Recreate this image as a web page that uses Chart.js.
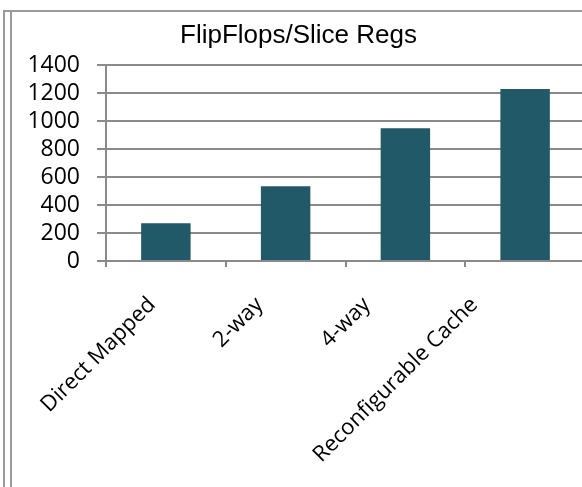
<!DOCTYPE html>
<html>
<head>
<meta charset="utf-8">
<script src="https://cdn.jsdelivr.net/npm/chart.js@4.4.1/dist/chart.umd.min.js"></script>
<style>
  html, body { margin: 0; padding: 0; background: #fff; overflow: hidden; }
  #wrap { position: relative; width: 582px; height: 487px; overflow: hidden; }
  .frame { position: absolute; top: 10px; bottom: -10px; border-left: 2px solid #9a9a9a; border-top: 2px solid #9a9a9a; }
  #outer { left: 3px; right: -10px; }
  #inner { left: 10px; right: -10px; }
  #box { position: absolute; left: 0; top: 0; width: 590px; height: 487px; }
</style>
</head>
<body>
<div id="wrap">
  <div class="frame" id="outer"></div>
  <div class="frame" id="inner"></div>
  <div id="box"><canvas id="c" width="590" height="487"></canvas></div>
</div>
<script>
// Slice register (flip-flop) usage per cache organisation
const categories = ['Direct Mapped', '2-way', '4-way', 'Reconfigurable Cache'];
const sliceRegs = [270, 535, 950, 1230];
const yTicks = [0, 200, 400, 600, 800, 1000, 1200, 1400];

const gridColor = '#8a8a8a';

new Chart(document.getElementById('c'), {
  type: 'bar',
  data: {
    labels: categories,
    datasets: [{
      label: 'FlipFlops/Slice Regs',
      data: sliceRegs,
      backgroundColor: '#225968',
      borderWidth: 0,
      barPercentage: 0.413,
      categoryPercentage: 1.0
    }]
  },
  options: {
    responsive: false,
    animation: false,
    layout: { padding: { left: 12, right: 5, top: 0, bottom: 0 } },
    plugins: {
      legend: { display: false },
      tooltip: { enabled: false },
      title: {
        display: true,
        text: 'FlipFlops/Slice Regs',
        color: '#000',
        font: { family: 'Liberation Sans', size: 26, weight: 'normal' },
        padding: { top: 20, bottom: 14 }
      }
    },
    scales: {
      // category axis carrying the bars and the short tick marks
      x: {
        offset: true,
        grid: {
          offset: true,
          drawOnChartArea: false,
          color: gridColor,
          lineWidth: 2,
          tickLength: 6
        },
        border: { color: gridColor, width: 2 },
        ticks: { display: false },
        afterFit: (scale) => { scale.height = 6; }
      },
      // slanted category names, spread a little tighter than the bars
      xNames: {
        type: 'linear',
        position: 'bottom',
        offset: false,
        min: -0.43,
        max: 4.03,
        grid: { display: false, drawTicks: false, offset: false },
        border: { display: false },
        afterBuildTicks: (scale) => { scale.ticks = categories.map((_, i) => ({ value: i })); },
        ticks: {
          color: '#000',
          font: { family: 'Open Sans', size: 22 },
          minRotation: 45,
          maxRotation: 45,
          autoSkip: false,
          padding: 25,
          callback: (v) => categories[v] ?? ''
        },
        afterFit: (scale) => { scale.height = 220; }
      },
      y: {
        min: 0,
        max: 1400,
        afterBuildTicks: (scale) => { scale.ticks = yTicks.map(v => ({ value: v })); },
        grid: { color: gridColor, lineWidth: 2, tickLength: 9 },
        border: { color: gridColor, width: 2 },
        ticks: {
          color: '#000',
          font: { family: 'Open Sans', size: 23 },
          padding: 17,
          autoSkip: false,
          callback: (v) => String(v)
        },
        afterFit: (scale) => { scale.width = 94; }
      }
    }
  }
});
</script>
</body>
</html>
